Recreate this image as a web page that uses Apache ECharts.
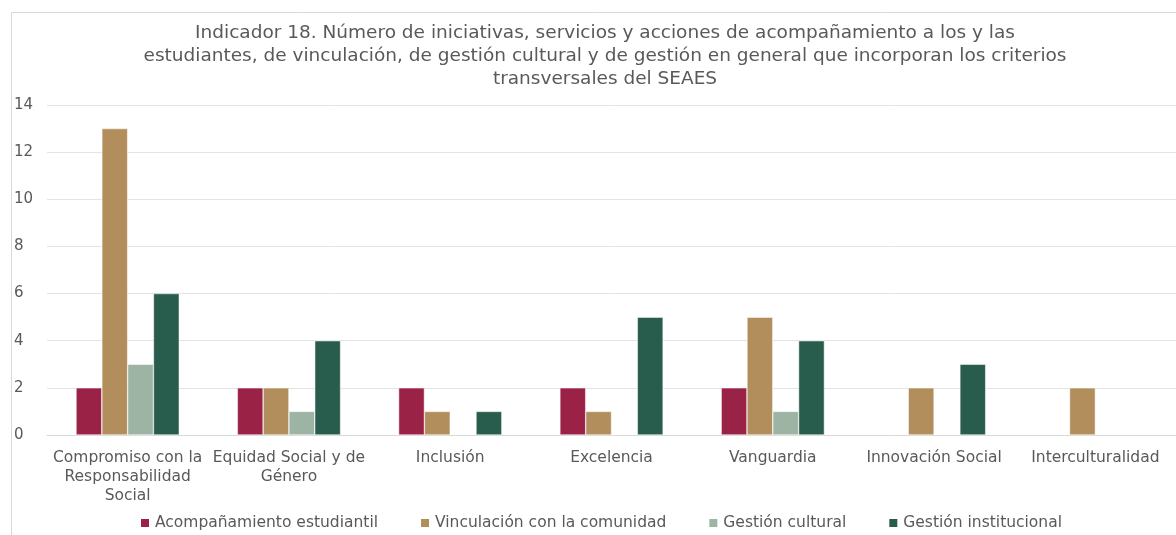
<!DOCTYPE html>
<html><head><meta charset="utf-8">
<script src="https://cdn.jsdelivr.net/npm/echarts@6/dist/echarts.min.js"></script>
<style>html,body{margin:0;padding:0;background:#fff}#c{width:1176px;height:535px}</style>
</head><body><div id="c"></div>
<script>
const categories = ["Compromiso con la\nResponsabilidad\nSocial", "Equidad Social y de\nGénero", "Inclusión", "Excelencia", "Vanguardia", "Innovación Social", "Interculturalidad"];
const acompanamiento = [2, 2, 2, 2, 2, null, null];
const vinculacion = [13, 2, 1, 1, 5, 2, 2];
const gestionCultural = [3, 1, null, null, 1, null, null];
const gestionInstitucional = [6, 4, 1, 5, 4, 3, null];
const seriesNames = ["Acompañamiento estudiantil", "Vinculación con la comunidad", "Gestión cultural", "Gestión institucional"];
const colors = ["#9B2247", "#B38E5D", "#9DB3A3", "#285C4D"];
const titleText = "Indicador 18. Número de iniciativas, servicios y acciones de acompañamiento a los y las\nestudiantes, de vinculación, de gestión cultural y de gestión en general que incorporan los criterios\ntransversales del SEAES";

const font = "DejaVu Sans";
const chart = echarts.init(document.getElementById('c'));
const data = [acompanamiento, vinculacion, gestionCultural, gestionInstitucional];
chart.setOption({
  animation: false,
  color: colors,
  textStyle: {fontFamily: font},
  graphic: [{type: 'rect', shape: {x: 11.5, y: 12.5, width: 1200, height: 560}, style: {fill: null, stroke: '#d9d9d9', lineWidth: 1}, silent: true}],
  title: {
    text: titleText, left: 600, textAlign: 'center', top: 17,
    textStyle: {fontFamily: font, fontSize: 18.5, fontWeight: 'normal', color: '#595959', lineHeight: 23}
  },
  legend: {
    bottom: -1, left: 134, itemWidth: 10, itemHeight: 10, itemGap: 41, icon: 'rect',
    textStyle: {fontFamily: font, fontSize: 15.5, color: '#595959'},
    data: seriesNames
  },
  grid: {left: 47, top: 105, width: 1133, height: 330, containLabel: false},
  xAxis: {
    type: 'category', data: categories,
    axisLine: {lineStyle: {color: '#d9d9d9'}}, axisTick: {show: false},
    axisLabel: {interval: 0, fontFamily: font, fontSize: 15.5, color: '#595959', lineHeight: 19, margin: 13}
  },
  yAxis: {
    type: 'value', min: 0, max: 14, interval: 2,
    axisLine: {show: false}, axisTick: {show: false},
    splitLine: {lineStyle: {color: '#e3e3e3'}},
    axisLabel: {fontFamily: font, fontSize: 15, color: '#595959', align: 'left', margin: 33}
  },
  series: seriesNames.map((n, i) => ({
    name: n, type: 'bar', data: data[i], barGap: '0%', barCategoryGap: '36%',
    itemStyle: {color: colors[i], borderColor: '#ffffff', borderWidth: 0.5}
  }))
});
</script></body></html>
